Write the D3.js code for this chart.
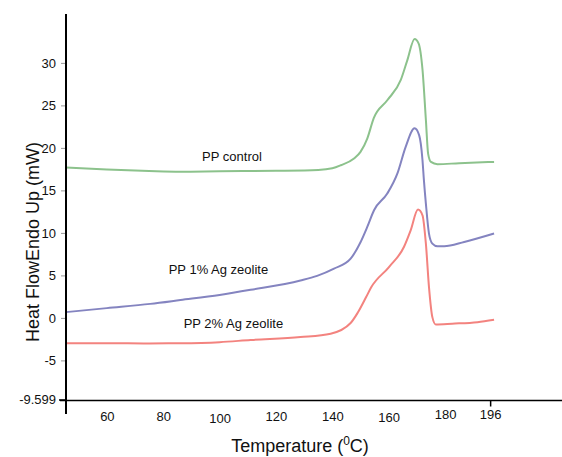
<!DOCTYPE html>
<html>
<head>
<meta charset="utf-8">
<script src="https://cdn.jsdelivr.net/npm/d3@7"></script>
<style>
  body { margin: 0; background: #fff; }
  text { font-family: "Liberation Sans", Arial, sans-serif; }
</style>
</head>
<body>
<div id="chart"></div>
<script>
// DSC thermograms (temperature in C, heat flow in mW)
const tempControl = [45.5, 60, 75, 86, 100, 120, 135, 140, 143, 147.7, 150, 152.4, 154.7, 159.5, 164.3, 166.6, 169.2, 170.6, 172, 173.2, 174, 175, 177.3, 185, 197.4];
const heatControl = [17.69, 17.45, 17.28, 17.2, 17.25, 17.3, 17.4, 17.6, 17.96, 18.75, 19.53, 21.1, 23.5, 25.6, 28.0, 30.3, 32.8, 32.3, 29.2, 23.3, 19.3, 18.35, 18.08, 18.2, 18.35];

const tempAg1 = [45.5, 60, 75.4, 86.1, 100, 111, 128.7, 134.6, 140.6, 146.5, 150, 152.4, 154.8, 159.5, 163.1, 166, 169.2, 170.8, 172, 172.5, 173.2, 174.3, 175.5, 177.3, 179.7, 186.8, 197.4];
const heatAg1 = [0.68, 1.15, 1.65, 2.1, 2.7, 3.3, 4.4, 4.95, 5.8, 6.97, 8.9, 10.7, 12.66, 14.63, 17.0, 20.1, 22.3, 21.5, 18.55, 16.2, 13.45, 9.92, 8.74, 8.42, 8.42, 8.93, 9.92];

const tempAg2 = [45.5, 60, 75, 86, 100, 111, 128.7, 139.4, 146.5, 149, 152, 153.8, 160.1, 165.4, 167.8, 170.4, 172, 173.2, 174.3, 175.5, 176.7, 182.5, 191.5, 197.4];
const heatAg2 = [-2.97, -2.97, -3.0, -2.98, -2.85, -2.6, -2.26, -1.86, -0.6, 0.6, 2.45, 3.6, 5.98, 8.34, 10.3, 12.74, 12.07, 8.74, 3.63, 0.09, -0.77, -0.68, -0.5, -0.21];

const seriesNames = ["PP control", "PP 1% Ag zeolite", "PP 2% Ag zeolite"];
const seriesColors = ["#8cc28c", "#8484c0", "#f3837f"];

const xTicks = [60, 80, 100, 120, 140, 160, 180, 196];
const yTicks = [-9.599, -5, 0, 5, 10, 15, 20, 25, 30];

const W = 562, H = 457;

const svg = d3.select("#chart")
  .append("svg")
    .attr("width", W)
    .attr("height", H);

const x = d3.scaleLinear().domain([45.5, 221.5]).range([66, 562]);
const y = d3.scaleLinear().domain([-9.599, 35.75]).range([399.5, 14]);

// curves, label anchors in data units
const series = [
  {name: seriesNames[0], t: tempControl, v: heatControl, color: seriesColors[0], lx: 104.4, ly: 18.4},
  {name: seriesNames[1], t: tempAg1, v: heatAg1, color: seriesColors[1], lx: 99.6, ly: 5.2},
  {name: seriesNames[2], t: tempAg2, v: heatAg2, color: seriesColors[2], lx: 104.9, ly: -1.2}
];

const line = d3.line()
  .x(d => x(d[0]))
  .y(d => y(d[1]))
  .curve(d3.curveMonotoneX);

svg.append("g")
  .selectAll("path")
  .data(series)
  .join("path")
    .attr("d", d => line(d.t.map((t, i) => [t, d.v[i]])))
    .attr("fill", "none")
    .attr("stroke", d => d.color)
    .attr("stroke-width", 2)
    .attr("stroke-linejoin", "round");

// series labels
svg.append("g")
  .selectAll("text")
  .data(series)
  .join("text")
    .attr("x", d => x(d.lx))
    .attr("y", d => y(d.ly))
    .attr("text-anchor", "middle")
    .attr("font-size", 13)
    .attr("fill", "#111")
    .text(d => d.name);

// y axis
const yAxis = svg.append("g")
  .attr("transform", "translate(66,0)")
  .call(d3.axisLeft(y).tickValues(yTicks).tickSize(5).tickPadding(5).tickFormat(d => String(d)));
yAxis.select(".domain").remove();
yAxis.selectAll(".tick line").attr("stroke", "#999");
yAxis.selectAll(".tick text")
  .attr("font-size", 13)
  .attr("fill", "#111")
  .attr("font-family", "Liberation Sans, Arial, sans-serif");
yAxis.selectAll(".tick").filter(d => d === -9.599).select("line")
  .attr("stroke", "#000").attr("x2", -7).attr("stroke-width", 1.5);

svg.append("line")
  .attr("x1", 66).attr("x2", 66)
  .attr("y1", 14).attr("y2", 414)
  .attr("stroke", "#000").attr("stroke-width", 2);

// x axis
const labelNudge = {60: 0, 80: 0, 100: 2.5, 120: 0, 140: 0, 160: 1.5, 180: -2, 196: -2};
const xAxis = svg.append("g")
  .attr("transform", "translate(0,400.5)")
  .call(d3.axisBottom(x).tickValues(xTicks).tickSize(0).tickPadding(11));
xAxis.select(".domain").remove();
xAxis.selectAll(".tick text")
  .attr("font-size", 13)
  .attr("fill", "#111")
  .attr("font-family", "Liberation Sans, Arial, sans-serif")
  .attr("dy", d => (0.71 * 13 + labelNudge[d]) + "px");
xAxis.selectAll(".tick").filter(d => d === 196).select("line")
  .attr("y2", 6).attr("stroke", "#000").attr("stroke-width", 1.5);

svg.append("line")
  .attr("x1", 60).attr("x2", 562)
  .attr("y1", 400.5).attr("y2", 400.5)
  .attr("stroke", "#000").attr("stroke-width", 1.5);

// axis titles
const xt = svg.append("text")
  .attr("x", 300)
  .attr("y", 452)
  .attr("text-anchor", "middle")
  .attr("font-size", 18)
  .attr("fill", "#111");
xt.append("tspan").text("Temperature (");
xt.append("tspan").attr("font-size", 12).attr("dy", -7).text("0");
xt.append("tspan").attr("dy", 7).text("C)");

svg.append("text")
  .attr("transform", "translate(39,242) rotate(-90)")
  .attr("text-anchor", "middle")
  .attr("font-size", 18)
  .attr("fill", "#111")
  .text("Heat FlowEndo Up (mW)");
</script>
</body>
</html>
